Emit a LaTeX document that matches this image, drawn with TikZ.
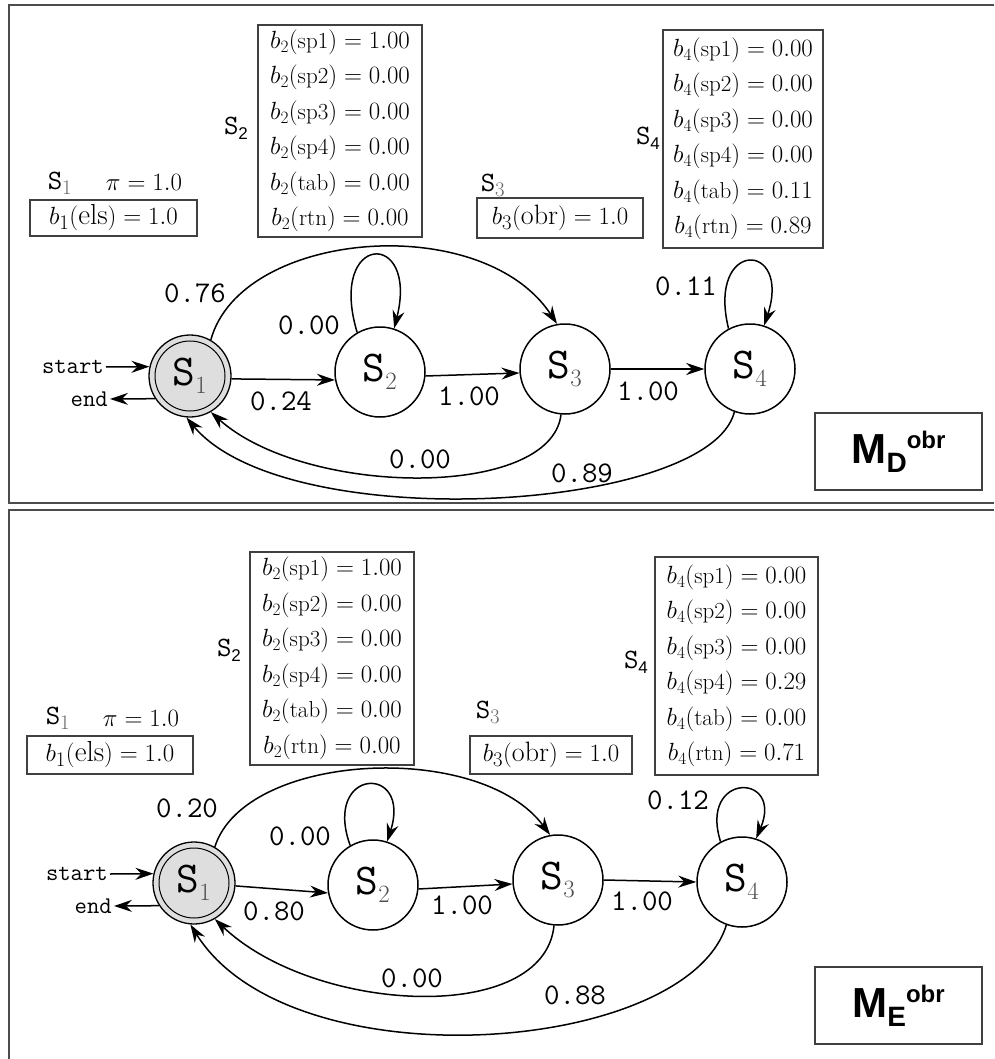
\documentclass[tikz,border=0pt]{standalone}
\usepackage{fontspec}
\newfontfamily\helvfont{Liberation Sans}
\usetikzlibrary{arrows.meta}
\newcommand\stname[1]{\texttt{S}$_{\textcolor{black!70}{#1}}$}
\newcommand\stlab[1]{\texttt{S}$_{\textcolor{black!60}{#1}}$}
\newcommand\stlabs[1]{\texttt{S}\raisebox{-5pt}{\helvfont\fontsize{17}{17}\selectfont #1}}
\newcommand\mlabel[1]{{\helvfont\bfseries\fontsize{42}{42}\selectfont M}\raisebox{-9pt}{\helvfont\bfseries\fontsize{28}{28}\selectfont #1}\raisebox{15pt}{\helvfont\bfseries\fontsize{24}{24}\selectfont obr}}
\tikzset{
  st/.style={circle, draw, line width=1.5pt, minimum size=90pt, inner sep=0pt, font=\fontsize{44}{44}\selectfont},
  ist/.style={st, minimum size=82pt, fill=black!13, line width=1.3pt},
  tr/.style={line width=1.5pt, -{Stealth[length=18pt,width=12pt,inset=6pt]}},
  el/.style={font=\ttfamily\fontsize{30}{30}\selectfont, inner sep=0pt},
  sl/.style={font=\ttfamily\fontsize{24}{24}\selectfont, inner sep=2pt},
  bx/.style={draw=black!75, line width=1.1pt, inner sep=0pt, align=center, font=\fontsize{23}{35.5}\selectfont},
  bxl/.style={draw=black!75, line width=1.1pt, inner sep=0pt, font=\fontsize{29}{29}\selectfont},
  snl/.style={font=\ttfamily\fontsize{28}{28}\selectfont, inner sep=0pt},
  mbox/.style={draw=black!75, line width=1.1pt, minimum width=167pt, minimum height=77pt},
  panelframe/.style={draw=black!70, line width=1.3pt},
}
\begin{document}
\begin{tikzpicture}[x=1pt,y=-1pt]
\useasboundingbox (0,0) rectangle (994,1059);
% ---------- frames
\draw[panelframe] (994,5) -- (9,5) -- (9,503) -- (994,503);
\draw[panelframe] (994,510) -- (9,510) -- (9,1059);

% ================= TOP PANEL =================
\node[ist] (tS1) at (190,376) {\stname{1}};
\draw[line width=1pt] (tS1.center) circle[radius=35pt];
\node[st] (tS2) at (380,372) {\stname{2}};
\node[st] (tS3) at (565,369) {\stname{3}};
\node[st] (tS4) at (750,369) {\stname{4}};
\node[sl, anchor=east] (tstart) at (106,367) {start};
\node[sl, anchor=east] (tend) at (110,399) {end};
\draw[tr] (tstart.east) -- (tS1.167);
\draw[tr] (tS1.213) -- (tend.east);
\draw[tr] (tS1.-4) -- (tS2.190);
\draw[tr] (tS2.-5) -- (tS3.185);
\draw[tr] (tS3.east) -- (tS4.west);
\draw[tr] (tS2.120) .. controls +(-30,-100) and +(25,-100) .. (tS2.72);
\draw[tr] (tS4.118) .. controls +(-22,-90) and +(28,-85) .. (tS4.72);
\draw[tr] (tS1.60) .. controls +(30,-110) and +(-75,-114) .. (tS3.100);
\draw[tr] (tS3.265) .. controls +(-10,85) and +(95,85) .. (tS1.300);
\draw[tr] (tS4.250) .. controls +(-25,100) and +(100,120) .. (tS1.265);
\node[el] (t13) at (195,293) {0.76};
\node[el] (t12) at (281,401) {0.24};
\node[el] (t22) at (309,325) {0.00};
\node[el] (t23) at (469,396) {1.00};
\node[el] (t34) at (648,391) {1.00};
\node[el] (t44) at (686,286) {0.11};
\node[el] (t31) at (420,459) {0.00};
\node[el] (t41) at (582,473) {0.89};
\node[snl] (tn1) at (60,183) {\stlab{1}};
\node[bxl, draw=none] (tpi) at (144,182) {$\pi=1.0$};
\node[bxl, minimum width=167pt, minimum height=36pt] (tb1) at (113.5,218) {$b_1(\mathrm{els})=1.0$};
\node[snl] (tn2) at (236,128) {\stlabs{2}};
\node[bx, minimum width=164pt, minimum height=212pt] (tb2) at (340,131) {%
$b_2(\mathrm{sp1})=1.00$\\ $b_2(\mathrm{sp2})=0.00$\\ $b_2(\mathrm{sp3})=0.00$\\
$b_2(\mathrm{sp4})=0.00$\\ $b_2(\mathrm{tab})=0.00$\\ $b_2(\mathrm{rtn})=0.00$};
\node[snl] (tn3) at (493,185) {\stlab{3}};
\node[bxl, font=\fontsize{28}{28}\selectfont, minimum width=166pt, minimum height=40pt] (tb3) at (560,218) {$b_3(\mathrm{obr})=1.0$};
\node[snl] (tn4) at (648,138) {\stlabs{4}};
\node[bx, minimum width=160pt, minimum height=218pt] (tb4) at (743,139) {%
$b_4(\mathrm{sp1})=0.00$\\ $b_4(\mathrm{sp2})=0.00$\\ $b_4(\mathrm{sp3})=0.00$\\
$b_4(\mathrm{sp4})=0.00$\\ $b_4(\mathrm{tab})=0.11$\\ $b_4(\mathrm{rtn})=0.89$};
\node[mbox] (tm) at (898.5,451.5) {\mlabel{D}};

% ================= BOTTOM PANEL =================
\node[ist] (bS1) at (194,883) {\stname{1}};
\draw[line width=1pt] (bS1.center) circle[radius=35pt];
\node[st] (bS2) at (373,885) {\stname{2}};
\node[st] (bS3) at (558,880) {\stname{3}};
\node[st] (bS4) at (742,882) {\stname{4}};
\node[sl, anchor=east] (bstart) at (110,874) {start};
\node[sl, anchor=east] (bend) at (114,906) {end};
\draw[tr] (bstart.east) -- (bS1.167);
\draw[tr] (bS1.213) -- (bend.east);
\draw[tr] (bS1.-4) -- (bS2.190);
\draw[tr] (bS2.-5) -- (bS3.185);
\draw[tr] (bS3.east) -- (bS4.west);
\draw[tr] (bS2.120) .. controls +(-28,-78) and +(25,-78) .. (bS2.72);
\draw[tr] (bS4.118) .. controls +(-22,-70) and +(28,-66) .. (bS4.72);
\draw[tr] (bS1.60) .. controls +(30,-95) and +(-70,-95) .. (bS3.100);
\draw[tr] (bS3.265) .. controls +(-10,100) and +(100,95) .. (bS1.300);
\draw[tr] (bS4.250) .. controls +(-40,130) and +(100,160) .. (bS1.265);
\node[el] (b13) at (187,808) {0.20};
\node[el] (b12) at (274,911) {0.80};
\node[el] (b22) at (300,836) {0.00};
\node[el] (b23) at (462,905) {1.00};
\node[el] (b34) at (642,901) {1.00};
\node[el] (b44) at (678,800) {0.12};
\node[el] (b31) at (412,978) {0.00};
\node[el] (b41) at (575,995) {0.88};
\node[snl] (bn1) at (58,718) {\stlab{1}};
\node[bxl, draw=none] (bpi) at (141,718) {$\pi=1.0$};
\node[bxl, minimum width=166pt, minimum height=38pt] (bb1) at (110,755) {$b_1(\mathrm{els})=1.0$};
\node[snl] (bn2) at (229,650) {\stlabs{2}};
\node[bx, minimum width=164pt, minimum height=213pt] (bb2) at (332,658.5) {%
$b_2(\mathrm{sp1})=1.00$\\ $b_2(\mathrm{sp2})=0.00$\\ $b_2(\mathrm{sp3})=0.00$\\
$b_2(\mathrm{sp4})=0.00$\\ $b_2(\mathrm{tab})=0.00$\\ $b_2(\mathrm{rtn})=0.00$};
\node[snl] (bn3) at (488,712) {\stlab{3}};
\node[bxl, font=\fontsize{28}{28}\selectfont, minimum width=162pt, minimum height=38pt] (bb3) at (551,755) {$b_3(\mathrm{obr})=1.0$};
\node[snl] (bn4) at (636,662) {\stlabs{4}};
\node[bx, minimum width=163pt, minimum height=218pt] (bb4) at (736.5,666) {%
$b_4(\mathrm{sp1})=0.00$\\ $b_4(\mathrm{sp2})=0.00$\\ $b_4(\mathrm{sp3})=0.00$\\
$b_4(\mathrm{sp4})=0.29$\\ $b_4(\mathrm{tab})=0.00$\\ $b_4(\mathrm{rtn})=0.71$};
\node[mbox] (bm) at (898.5,1005.5) {\mlabel{E}};
\end{tikzpicture}
\end{document}
